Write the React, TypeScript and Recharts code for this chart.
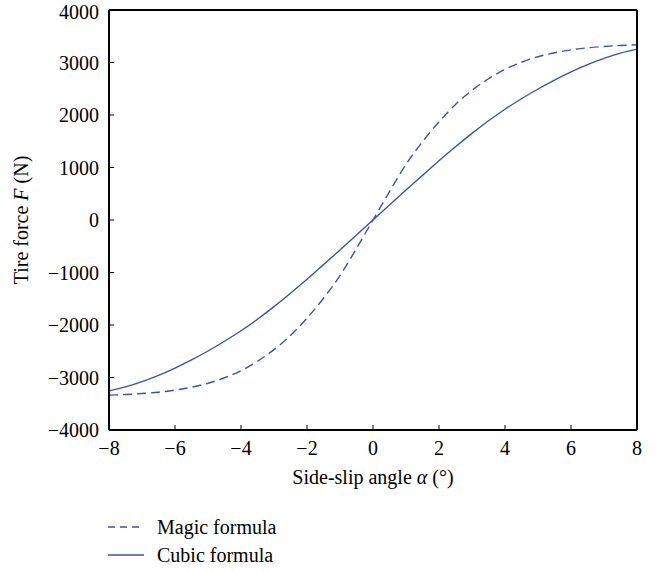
import React from 'react';
import { Legend, Line, LineChart, XAxis, YAxis } from 'recharts';

const alpha = [
    -8, -7.5, -7, -6.5, -6, -5.5, -5, -4.5, -4, -3.5, -3, -2.5, -2, -1.5, -1, -0.5,
    0, 0.5, 1, 1.5, 2, 2.5, 3, 3.5, 4, 4.5, 5, 5.5, 6, 6.5, 7, 7.5, 8,
];
const magicForce = [
    -3335, -3325, -3305, -3280, -3240, -3185, -3110, -3005, -2870, -2690, -2470, -2200, -1870, -1490, -1060, -540,
    0, 540, 1060, 1490, 1870, 2200, 2470, 2690, 2870, 3005, 3110, 3185, 3240, 3280, 3305, 3325, 3335,
];
const cubicForce = [
    -3255, -3180, -3080, -2960, -2820, -2665, -2495, -2310, -2110, -1890, -1650, -1395, -1130, -850, -570, -285,
    0, 285, 570, 850, 1130, 1395, 1650, 1890, 2110, 2310, 2495, 2665, 2820, 2960, 3080, 3180, 3255,
];
const xTicks = [-8, -6, -4, -2, 0, 2, 4, 6, 8];
const yTicks = [-4000, -3000, -2000, -1000, 0, 1000, 2000, 3000, 4000];
const seriesNames = ['Magic formula', 'Cubic formula'];

const data = alpha.map((a, i) => ({ alpha: a, magic: magicForce[i], cubic: cubicForce[i] }));

const font = '"Liberation Serif", "DejaVu Serif", serif';
const fontSize = 20;
const blue = '#3853ac';
const fmt = (v: number) => String(v).replace('-', '\u2212');
const tickStyle = { fill: '#000', fontSize, fontFamily: font };
const boxLine = { stroke: '#000', strokeWidth: 2 };

const XLabel = ({ viewBox }: any) => (
    <text x={viewBox.x + viewBox.width / 2} y={viewBox.y + 54} textAnchor="middle" fontFamily={font} fontSize={fontSize} fill="#000">
        Side-slip angle <tspan fontStyle="italic">α</tspan> (°)
    </text>
);

const YLabel = ({ viewBox }: any) => {
    const cy = viewBox.y + viewBox.height / 2;
    return (
        <text x={28} y={cy} transform={`rotate(-90, 28, ${cy})`} textAnchor="middle" fontFamily={font} fontSize={fontSize} fill="#000">
            Tire force <tspan fontStyle="italic">F</tspan> (N)
        </text>
    );
};

// keep legend rows in series order (recharts sorts them by name otherwise)
const LegendBox = () => (
    <div style={{ fontFamily: font, fontSize, color: '#000' }}>
        {seriesNames.map((name, i) => (
            <div key={name} style={{ display: 'flex', alignItems: 'center', height: 28 }}>
                <svg width={36} height={10} style={{ marginRight: 13 }}>
                    <line x1={0} y1={5} x2={36} y2={5} stroke={blue} strokeWidth={1.4}
                        strokeDasharray={i === 0 ? '7 5' : undefined} />
                </svg>
                <span>{name}</span>
            </div>
        ))}
    </div>
);

export default function App() {
    return (
        <div style={{ position: 'absolute', left: 0, top: 0, background: '#fff' }}>
            <LineChart width={661} height={571} data={data} margin={{ top: 9, right: 23, bottom: 81, left: 0 }}>
                <XAxis xAxisId="b" type="number" dataKey="alpha" domain={[-8, 8]} ticks={xTicks} allowDataOverflow
                    tickSize={-5} tickMargin={16} tickLine={{ stroke: '#000' }} axisLine={boxLine}
                    tick={tickStyle} tickFormatter={fmt} height={60} label={<XLabel />} />
                <XAxis xAxisId="t" orientation="top" type="number" domain={[-8, 8]} ticks={xTicks} allowDataOverflow
                    tickSize={-5} tickLine={{ stroke: '#000' }} axisLine={boxLine} tick={false} height={1} />
                <YAxis yAxisId="l" type="number" domain={[-4000, 4000]} ticks={yTicks} allowDataOverflow
                    tickSize={-5} tickMargin={15} tickLine={{ stroke: '#000' }} axisLine={boxLine}
                    tick={tickStyle} tickFormatter={fmt} width={109} label={<YLabel />} />
                <YAxis yAxisId="r" orientation="right" type="number" domain={[-4000, 4000]} ticks={yTicks} allowDataOverflow
                    tickSize={-5} tickLine={{ stroke: '#000' }} axisLine={boxLine} tick={false} width={1} />
                <Legend layout="vertical" align="center" verticalAlign="middle" content={<LegendBox />}
                    wrapperStyle={{ left: 108, top: 513, width: 300 }} />
                <Line xAxisId="b" yAxisId="l" type="monotone" dataKey="magic" name={seriesNames[0]} stroke={blue}
                    strokeWidth={1.4} strokeDasharray="9 5" dot={false} isAnimationActive={false} />
                <Line xAxisId="b" yAxisId="l" type="monotone" dataKey="cubic" name={seriesNames[1]} stroke={blue}
                    strokeWidth={1.4} dot={false} isAnimationActive={false} />
            </LineChart>
        </div>
    );
}
